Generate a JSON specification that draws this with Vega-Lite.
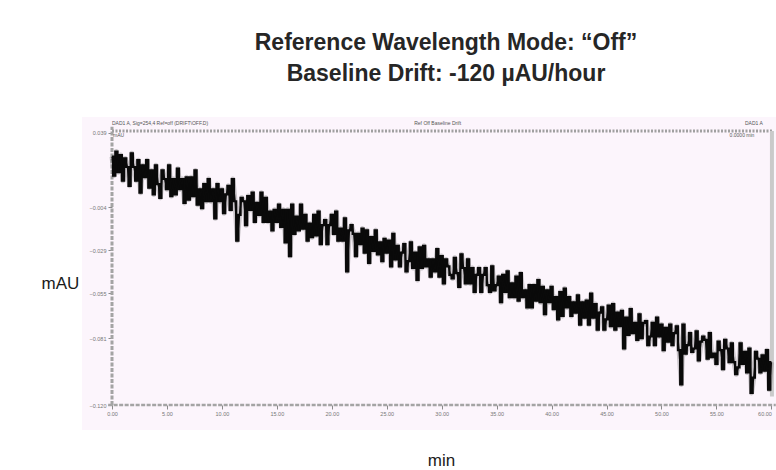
{
  "$schema": "https://vega.github.io/schema/vega-lite/v6.json",
  "width": 694,
  "height": 313,
  "autosize": "none",
  "padding": {"left": 82, "top": 117, "right": 0, "bottom": 40},
  "background": "white",
  "config": {"view": {"stroke": null, "fill": "#fcf5fc"}},
  "title": {
    "text": ["Reference Wavelength Mode: “Off”", "Baseline Drift: -120 µAU/hour"],
    "font": "Liberation Sans",
    "fontSize": 23,
    "fontWeight": "bold",
    "color": "#262626",
    "anchor": "middle",
    "frame": "group",
    "dx": 17,
    "offset": 31,
    "lineHeight": 31
  },
  "datasets": {
    "sig": [
      {"t":0,"v":0.025},{"t":0.2,"v":0.014},{"t":0.4,"v":0.028},{"t":0.6,"v":0.016},{"t":0.8,"v":0.026},
      {"t":1,"v":0.011},{"t":1.2,"v":0.024},{"t":1.4,"v":0.019},{"t":1.6,"v":0.008},{"t":1.8,"v":0.027},
      {"t":2,"v":0.019},{"t":2.2,"v":0.011},{"t":2.4,"v":0.023},{"t":2.6,"v":0.004},{"t":2.8,"v":0.020},
      {"t":3,"v":0.013},{"t":3.2,"v":0.023},{"t":3.4,"v":0.007},{"t":3.6,"v":0.017},{"t":3.8,"v":0.003},
      {"t":4,"v":0.020},{"t":4.2,"v":0.009},{"t":4.4,"v":0.001},{"t":4.6,"v":0.017},{"t":4.8,"v":0.012},
      {"t":5,"v":0.006},{"t":5.2,"v":0.020},{"t":5.4,"v":0.002},{"t":5.6,"v":0.012},{"t":5.8,"v":0.003},
      {"t":6,"v":0.018},{"t":6.2,"v":0.006},{"t":6.4,"v":0.012},{"t":6.6,"v":-0.002},{"t":6.8,"v":0.013},
      {"t":7,"v":0.000},{"t":7.2,"v":0.013},{"t":7.4,"v":0.002},{"t":7.6,"v":0.017},{"t":7.8,"v":-0.003},
      {"t":8,"v":0.006},{"t":8.2,"v":-0.005},{"t":8.4,"v":0.009},{"t":8.6,"v":-0.001},{"t":8.8,"v":0.012},
      {"t":9,"v":-0.001},{"t":9.2,"v":0.006},{"t":9.4,"v":-0.011},{"t":9.6,"v":0.009},{"t":9.8,"v":-0.001},
      {"t":10,"v":0.006},{"t":10.2,"v":-0.008},{"t":10.4,"v":0.003},{"t":10.6,"v":0.008},{"t":10.8,"v":-0.006},
      {"t":11,"v":0.012},{"t":11.2,"v":-0.001},{"t":11.4,"v":-0.024},{"t":11.6,"v":-0.009},{"t":11.8,"v":0.001},
      {"t":12,"v":-0.001},{"t":12.2,"v":-0.015},{"t":12.4,"v":0.002},{"t":12.6,"v":-0.006},{"t":12.8,"v":0.004},
      {"t":13,"v":-0.013},{"t":13.2,"v":-0.002},{"t":13.4,"v":-0.009},{"t":13.6,"v":0.004},{"t":13.8,"v":-0.013},
      {"t":14,"v":0.001},{"t":14.2,"v":-0.013},{"t":14.4,"v":-0.007},{"t":14.6,"v":-0.018},{"t":14.8,"v":-0.006},
      {"t":15,"v":-0.013},{"t":15.2,"v":-0.003},{"t":15.4,"v":-0.016},{"t":15.6,"v":-0.006},{"t":15.8,"v":-0.025},
      {"t":16,"v":-0.006},{"t":16.2,"v":-0.033},{"t":16.4,"v":-0.003},{"t":16.6,"v":-0.020},{"t":16.8,"v":-0.010},
      {"t":17,"v":-0.018},{"t":17.2,"v":-0.003},{"t":17.4,"v":-0.017},{"t":17.6,"v":-0.009},{"t":17.8,"v":-0.024},
      {"t":18,"v":-0.014},{"t":18.2,"v":-0.022},{"t":18.4,"v":-0.009},{"t":18.6,"v":-0.021},{"t":18.8,"v":-0.007},
      {"t":19,"v":-0.026},{"t":19.2,"v":-0.015},{"t":19.4,"v":-0.012},{"t":19.6,"v":-0.026},{"t":19.8,"v":-0.015},
      {"t":20,"v":-0.009},{"t":20.2,"v":-0.020},{"t":20.4,"v":-0.007},{"t":20.6,"v":-0.024},{"t":20.8,"v":-0.017},
      {"t":21,"v":-0.024},{"t":21.2,"v":-0.011},{"t":21.4,"v":-0.042},{"t":21.6,"v":-0.018},{"t":21.8,"v":-0.015},
      {"t":22,"v":-0.020},{"t":22.2,"v":-0.033},{"t":22.4,"v":-0.020},{"t":22.6,"v":-0.026},{"t":22.8,"v":-0.017},
      {"t":23,"v":-0.031},{"t":23.2,"v":-0.018},{"t":23.4,"v":-0.037},{"t":23.6,"v":-0.022},{"t":23.8,"v":-0.030},
      {"t":24,"v":-0.018},{"t":24.2,"v":-0.032},{"t":24.4,"v":-0.025},{"t":24.6,"v":-0.036},{"t":24.8,"v":-0.023},
      {"t":25,"v":-0.031},{"t":25.2,"v":-0.024},{"t":25.4,"v":-0.039},{"t":25.6,"v":-0.020},{"t":25.8,"v":-0.035},
      {"t":26,"v":-0.027},{"t":26.2,"v":-0.039},{"t":26.4,"v":-0.031},{"t":26.6,"v":-0.026},{"t":26.8,"v":-0.042},
      {"t":27,"v":-0.036},{"t":27.2,"v":-0.025},{"t":27.4,"v":-0.040},{"t":27.6,"v":-0.031},{"t":27.8,"v":-0.047},
      {"t":28,"v":-0.028},{"t":28.2,"v":-0.040},{"t":28.4,"v":-0.027},{"t":28.6,"v":-0.039},{"t":28.8,"v":-0.035},
      {"t":29,"v":-0.045},{"t":29.2,"v":-0.035},{"t":29.4,"v":-0.042},{"t":29.6,"v":-0.029},{"t":29.8,"v":-0.045},
      {"t":30,"v":-0.033},{"t":30.2,"v":-0.049},{"t":30.4,"v":-0.035},{"t":30.6,"v":-0.039},{"t":30.8,"v":-0.044},
      {"t":31,"v":-0.046},{"t":31.2,"v":-0.034},{"t":31.4,"v":-0.043},{"t":31.6,"v":-0.051},{"t":31.8,"v":-0.032},
      {"t":32,"v":-0.040},{"t":32.2,"v":-0.049},{"t":32.4,"v":-0.035},{"t":32.6,"v":-0.049},{"t":32.8,"v":-0.040},
      {"t":33,"v":-0.054},{"t":33.2,"v":-0.044},{"t":33.4,"v":-0.040},{"t":33.6,"v":-0.054},{"t":33.8,"v":-0.044},
      {"t":34,"v":-0.040},{"t":34.2,"v":-0.050},{"t":34.4,"v":-0.054},{"t":34.6,"v":-0.039},{"t":34.8,"v":-0.053},
      {"t":35,"v":-0.050},{"t":35.2,"v":-0.045},{"t":35.4,"v":-0.060},{"t":35.6,"v":-0.044},{"t":35.8,"v":-0.054},
      {"t":36,"v":-0.042},{"t":36.2,"v":-0.057},{"t":36.4,"v":-0.049},{"t":36.6,"v":-0.057},{"t":36.8,"v":-0.045},
      {"t":37,"v":-0.059},{"t":37.2,"v":-0.043},{"t":37.4,"v":-0.057},{"t":37.6,"v":-0.053},{"t":37.8,"v":-0.063},
      {"t":38,"v":-0.050},{"t":38.2,"v":-0.063},{"t":38.4,"v":-0.050},{"t":38.6,"v":-0.059},{"t":38.8,"v":-0.047},
      {"t":39,"v":-0.060},{"t":39.2,"v":-0.051},{"t":39.4,"v":-0.067},{"t":39.6,"v":-0.053},{"t":39.8,"v":-0.060},
      {"t":40,"v":-0.051},{"t":40.2,"v":-0.064},{"t":40.4,"v":-0.057},{"t":40.6,"v":-0.070},{"t":40.8,"v":-0.054},
      {"t":41,"v":-0.068},{"t":41.2,"v":-0.052},{"t":41.4,"v":-0.063},{"t":41.6,"v":-0.057},{"t":41.8,"v":-0.068},
      {"t":42,"v":-0.060},{"t":42.2,"v":-0.066},{"t":42.4,"v":-0.056},{"t":42.6,"v":-0.073},{"t":42.8,"v":-0.060},
      {"t":43,"v":-0.069},{"t":43.2,"v":-0.059},{"t":43.4,"v":-0.073},{"t":43.6,"v":-0.055},{"t":43.8,"v":-0.069},
      {"t":44,"v":-0.061},{"t":44.2,"v":-0.076},{"t":44.4,"v":-0.066},{"t":44.6,"v":-0.063},{"t":44.8,"v":-0.076},
      {"t":45,"v":-0.070},{"t":45.2,"v":-0.062},{"t":45.4,"v":-0.074},{"t":45.6,"v":-0.061},{"t":45.8,"v":-0.076},
      {"t":46,"v":-0.066},{"t":46.2,"v":-0.074},{"t":46.4,"v":-0.065},{"t":46.6,"v":-0.087},{"t":46.8,"v":-0.069},
      {"t":47,"v":-0.079},{"t":47.2,"v":-0.064},{"t":47.4,"v":-0.078},{"t":47.6,"v":-0.072},{"t":47.8,"v":-0.082},
      {"t":48,"v":-0.067},{"t":48.2,"v":-0.081},{"t":48.4,"v":-0.072},{"t":48.6,"v":-0.071},{"t":48.8,"v":-0.085},
      {"t":49,"v":-0.080},{"t":49.2,"v":-0.072},{"t":49.4,"v":-0.085},{"t":49.6,"v":-0.069},{"t":49.8,"v":-0.080},
      {"t":50,"v":-0.073},{"t":50.2,"v":-0.088},{"t":50.4,"v":-0.075},{"t":50.6,"v":-0.083},{"t":50.8,"v":-0.073},
      {"t":51,"v":-0.085},{"t":51.2,"v":-0.078},{"t":51.4,"v":-0.074},{"t":51.6,"v":-0.088},{"t":51.8,"v":-0.108},
      {"t":52,"v":-0.073},{"t":52.2,"v":-0.090},{"t":52.4,"v":-0.085},{"t":52.6,"v":-0.078},{"t":52.8,"v":-0.089},
      {"t":53,"v":-0.087},{"t":53.2,"v":-0.077},{"t":53.4,"v":-0.094},{"t":53.6,"v":-0.083},{"t":53.8,"v":-0.080},
      {"t":54,"v":-0.082},{"t":54.2,"v":-0.093},{"t":54.4,"v":-0.078},{"t":54.6,"v":-0.092},{"t":54.8,"v":-0.090},
      {"t":55,"v":-0.096},{"t":55.2,"v":-0.083},{"t":55.4,"v":-0.088},{"t":55.6,"v":-0.099},{"t":55.8,"v":-0.082},
      {"t":56,"v":-0.087},{"t":56.2,"v":-0.095},{"t":56.4,"v":-0.084},{"t":56.6,"v":-0.095},{"t":56.8,"v":-0.102},
      {"t":57,"v":-0.098},{"t":57.2,"v":-0.084},{"t":57.4,"v":-0.096},{"t":57.6,"v":-0.089},{"t":57.8,"v":-0.101},
      {"t":58,"v":-0.087},{"t":58.2,"v":-0.113},{"t":58.4,"v":-0.104},{"t":58.6,"v":-0.089},{"t":58.8,"v":-0.093},
      {"t":59,"v":-0.101},{"t":59.2,"v":-0.091},{"t":59.4,"v":-0.100},{"t":59.6,"v":-0.088},{"t":59.8,"v":-0.111},
      {"t":60,"v":-0.095}
    ],
    "notes": [
      {"t":0,"v":0.0445,"label":"DAD1 A, Sig=254,4 Ref=off (DRIFT\\OFF.D)"},
      {"t":27.5,"v":0.0445,"label":"Ref Off Baseline Drift"},
      {"t":57.6,"v":0.0445,"label":"DAD1 A"},
      {"t":0.1,"v":0.0375,"label":"mAU"},
      {"t":56.2,"v":0.0375,"label":"0.0000 min"}
    ]
  },
  "resolve": {"axis": {"x": "independent", "y": "independent"}},
  "layer": [
    {
      "data": {"values": [{}]},
      "mark": {"type": "rule", "color": "#a4a4a4", "strokeWidth": 3, "strokeDash": [4, 1.5]},
      "encoding": {
        "x": {"datum": 0, "type": "quantitative", "scale": {"domain": [-2.73, 60.42], "nice": false, "zero": false}, "axis": null},
        "y": {"datum": -0.12, "type": "quantitative", "scale": {"domain": [-0.1346, 0.0482], "nice": false, "zero": false}, "axis": null},
        "y2": {"datum": 0.0425}
      }
    },
    {
      "data": {"values": [{}]},
      "mark": {"type": "rule", "color": "#a4a4a4", "strokeWidth": 2.5, "strokeDash": [4, 1.5]},
      "encoding": {
        "x": {"datum": -0.35, "type": "quantitative", "axis": null},
        "x2": {"datum": 60.4},
        "y": {"datum": -0.12, "type": "quantitative", "axis": null}
      }
    },
    {
      "data": {"values": [{}]},
      "mark": {"type": "rule", "color": "#a0a0a0", "strokeWidth": 3, "strokeDash": [2, 1.5]},
      "encoding": {
        "x": {"datum": 0, "type": "quantitative", "axis": null},
        "x2": {"datum": 60.05},
        "y": {"datum": 0.04, "type": "quantitative", "axis": null}
      }
    },
    {
      "data": {"values": [{}]},
      "mark": {"type": "rule", "color": "#cacaca", "strokeWidth": 4},
      "encoding": {
        "x": {"datum": 60.05, "type": "quantitative", "axis": null},
        "y": {"datum": -0.115, "type": "quantitative", "axis": null},
        "y2": {"datum": 0.04}
      }
    },
    {
      "data": {"name": "sig"},
      "mark": {"type": "line", "color": "#6a6a6a", "strokeWidth": 5, "opacity": 0.35, "strokeJoin": "round", "clip": true},
      "encoding": {
        "x": {"field": "t", "type": "quantitative", "axis": null},
        "y": {"field": "v", "type": "quantitative", "axis": null}
      }
    },
    {
      "data": {"name": "sig"},
      "mark": {"type": "line", "color": "#0a0a0a", "strokeWidth": 2.2, "interpolate": "step", "clip": true},
      "encoding": {
        "x": {
          "field": "t", "type": "quantitative",
          "scale": {"domain": [-2.73, 60.42], "nice": false, "zero": false},
          "axis": {
            "title": "min", "values": [0,5,10,15,20,25,30,35,40,45,50,55,60], "format": ".2f",
            "offset": -25, "domain": false, "labelFlush": 8,
            "labelFontSize": 5.5, "labelColor": "#777777", "labelPadding": 2, "labelFont": "Liberation Sans",
            "tickColor": "#8a8a8a", "tickSize": 4, "tickWidth": 1,
            "grid": false,
            "titleFont": "Liberation Sans", "titleFontSize": 17, "titleFontWeight": "normal",
            "titleColor": "#1a1a1a", "titleX": 359, "titleY": 55, "titleAlign": "center", "titleBaseline": "middle"
          }
        },
        "y": {
          "field": "v", "type": "quantitative",
          "scale": {"domain": [-0.1346, 0.0482], "nice": false, "zero": false},
          "axis": {
            "title": "mAU", "values": [-0.12, -0.0809, -0.0546, -0.0295, -0.0044, 0.039], "format": ".3f",
            "offset": -30, "domain": false,
            "labelFontSize": 5.5, "labelColor": "#777777", "labelPadding": 2, "labelFont": "Liberation Sans",
            "tickColor": "#8a8a8a", "tickSize": 4, "tickWidth": 1,
            "grid": false,
            "titleFont": "Liberation Sans", "titleFontSize": 17, "titleFontWeight": "normal",
            "titleColor": "#1a1a1a", "titleAngle": 0, "titleX": -52, "titleY": 166,
            "titleAlign": "center", "titleBaseline": "middle"
          }
        }
      }
    },
    {
      "data": {"name": "sig"},
      "mark": {"type": "line", "color": "#0a0a0a", "strokeWidth": 1.4, "strokeJoin": "round", "clip": true},
      "encoding": {
        "x": {"field": "t", "type": "quantitative", "axis": null},
        "y": {"field": "v", "type": "quantitative", "axis": null}
      }
    },
    {
      "data": {"name": "notes"},
      "mark": {"type": "text", "fontSize": 5, "color": "#555555", "align": "left", "baseline": "middle", "font": "Liberation Sans"},
      "encoding": {
        "x": {"field": "t", "type": "quantitative", "axis": null},
        "y": {"field": "v", "type": "quantitative", "axis": null},
        "text": {"field": "label"}
      }
    }
  ]
}
